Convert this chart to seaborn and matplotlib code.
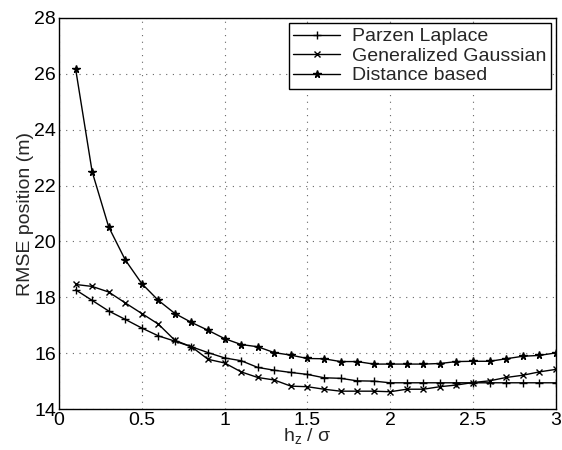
import numpy as np
import pandas as pd
import matplotlib
matplotlib.use("Agg")
import matplotlib.pyplot as plt
import seaborn as sns

# h_z / sigma values
ratio = [0.1, 0.2, 0.3, 0.4, 0.5, 0.6, 0.7, 0.8, 0.9, 1.0,
         1.1, 1.2, 1.3, 1.4, 1.5, 1.6, 1.7, 1.8, 1.9, 2.0,
         2.1, 2.2, 2.3, 2.4, 2.5, 2.6, 2.7, 2.8, 2.9, 3.0]

parzen_laplace = [18.27, 17.89, 17.51, 17.21, 16.90, 16.62, 16.43, 16.23, 16.02, 15.83,
                  15.73, 15.49, 15.39, 15.31, 15.24, 15.12, 15.10, 15.01, 15.00, 14.94,
                  14.94, 14.94, 14.94, 14.94, 14.94, 14.94, 14.94, 14.94, 14.94, 14.94]

gen_gaussian = [18.46, 18.39, 18.19, 17.80, 17.42, 17.04, 16.46, 16.23, 15.78, 15.65,
                15.33, 15.13, 15.04, 14.82, 14.80, 14.71, 14.64, 14.64, 14.64, 14.62,
                14.71, 14.71, 14.80, 14.86, 14.95, 15.01, 15.13, 15.21, 15.33, 15.42]

distance_based = [26.19, 22.50, 20.52, 19.34, 18.49, 17.89, 17.42, 17.10, 16.82, 16.52,
                  16.31, 16.23, 16.02, 15.93, 15.81, 15.80, 15.70, 15.70, 15.61, 15.61,
                  15.61, 15.61, 15.63, 15.70, 15.71, 15.71, 15.80, 15.89, 15.92, 16.01]

series_names = ["Parzen Laplace", "Generalized Gaussian", "Distance based"]
series_markers = ["+", "x", "*"]
series_msize = [6, 4.5, 5.5]

df = pd.DataFrame({
    "ratio": ratio * 3,
    "rmse": parzen_laplace + gen_gaussian + distance_based,
    "method": [n for n in series_names for _ in ratio],
})

sns.set_style("white")
plt.rcParams["font.family"] = ["Liberation Sans", "DejaVu Sans"]
plt.rcParams["mathtext.fontset"] = "custom"
plt.rcParams["mathtext.rm"] = "Liberation Sans"
plt.rcParams["mathtext.it"] = "Liberation Sans"

fig = plt.figure(figsize=(5.62, 4.5), dpi=100)
ax = fig.add_axes([0.105, 0.091, 0.884, 0.869])

for name, mk, ms in zip(series_names, series_markers, series_msize):
    sub = df[df["method"] == name]
    sns.lineplot(data=sub, x="ratio", y="rmse", ax=ax, color="black",
                 linewidth=1.0, marker=mk, markersize=ms,
                 markeredgewidth=1.0, markeredgecolor="black",
                 markerfacecolor="black", label=name)

ax.set_xlim(0, 3)
ax.set_ylim(14, 28)
ax.set_xticks([0, 0.5, 1, 1.5, 2, 2.5, 3])
ax.set_xticklabels(["0", "0.5", "1", "1.5", "2", "2.5", "3"])
ax.set_yticks(range(14, 29, 2))
ax.tick_params(direction="in", length=4, labelsize=14, colors="black", pad=2)
ax.grid(True, linestyle=(0, (1, 5)), color="#666666", linewidth=0.8)
for s in ax.spines.values():
    s.set_color("black")
    s.set_linewidth(1.0)

ax.set_xlabel(r"h$_z$ / σ", fontsize=14, labelpad=-2)
ax.set_ylabel("RMSE position (m)", fontsize=14, labelpad=0)

leg = ax.legend(loc="upper right", fontsize=14, frameon=True, fancybox=False,
                edgecolor="black", framealpha=1, borderaxespad=0.25,
                handlelength=2.4, handletextpad=0.6, labelspacing=0.1,
                borderpad=0.25)
leg.get_frame().set_linewidth(1.0)

fig.savefig("out.png", dpi=100)
